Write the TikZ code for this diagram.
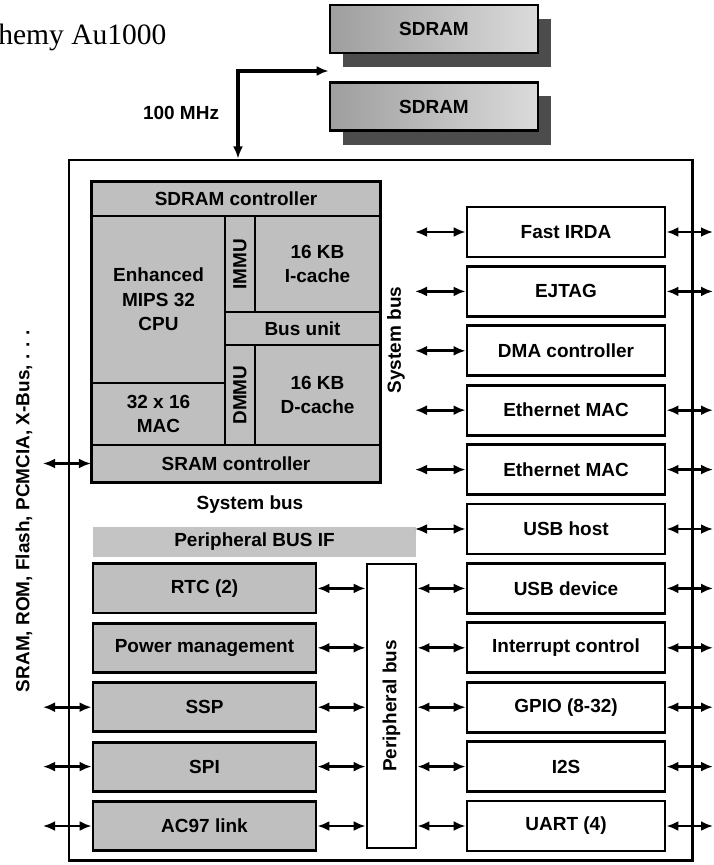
\documentclass[tikz,border=0pt]{standalone}
\usepackage{fontspec}
\setsansfont{Liberation Sans}
\newfontfamily\titlefont{Liberation Serif}
\usepackage{tikz}
\usetikzlibrary{arrows.meta, shadows}

\begin{document}
\begin{tikzpicture}[
    x=0.025cm, y=-0.025cm,
    txt/.style={font=\sffamily\bfseries\fontsize{13.5}{17.5}\selectfont, align=center},
    chip/.style={rectangle, draw, line width=2pt, inner sep=0,
        minimum width=15.575cm, minimum height=17.5cm},
    sdram/.style={rectangle, draw, line width=2pt, txt, inner sep=0,
        left color=black!38, right color=black!14,
        minimum width=5.2cm, minimum height=1.2cm,
        drop shadow={shadow xshift=0.33cm, shadow yshift=-0.35cm,
            fill=black!70, opacity=1}},
    cell/.style={rectangle, draw, line width=1.4pt, fill=black!25, txt, inner sep=0},
    gbox/.style={rectangle, draw, line width=2pt, fill=black!25, txt, inner sep=0,
        minimum width=5.575cm, minimum height=1.225cm},
    wbox/.style={rectangle, draw, line width=2pt, fill=white, txt, inner sep=0,
        minimum width=4.95cm, minimum height=1.25cm},
    busif/.style={rectangle, fill=black!23, txt, inner sep=0,
        minimum width=8.075cm, minimum height=0.75cm},
    lbl/.style={txt},
    arr/.style={{Latex[length=3mm,width=2.5mm]}-{Latex[length=3mm,width=2.5mm]},
        line width=2pt},
    clkarr/.style={{Latex[length=3mm,width=2.5mm]}-{Latex[length=3mm,width=2.5mm]},
        line width=2.6pt}
]
\useasboundingbox (0,0) rectangle (714,865);

% Title (cut at the left edge)
\node[font=\titlefont\fontsize{21}{24}\selectfont, anchor=base west, inner sep=0]
    (ttl) at (-2,45) {hemy Au1000};

% External memory
\node[sdram] (SD1) at (434,29) {SDRAM};
\node[sdram] (SD2) at (434,106.5) {SDRAM};

% Chip outline (its sides are the outer buses)
\node[chip] (chip) at (380.5,510) {};

% Memory clock
\coordinate (clk) at (238,71);
\draw[clkarr] (clk -| SD1.west) -- (clk) -- (clk |- chip.north);
\node[lbl, anchor=east] (mhz) at (224,113) {100 MHz};

% CPU core block
\node[cell, minimum width=7.2cm, minimum height=0.85cm] (sdctl) at (236,199) {SDRAM controller};
\node[cell, minimum width=3.325cm, minimum height=4.175cm] (cpu) at (158.5,299.5) {Enhanced\\MIPS 32\\CPU};
\node[cell, rotate=90, minimum width=2.4cm, minimum height=0.75cm] (immu) at (240,264) {IMMU};
\node[cell, minimum width=3.125cm, minimum height=2.4cm] (icache) at (317.5,264) {16 KB\\I-cache};
\node[cell, minimum width=3.875cm, minimum height=0.825cm] (busunit) at (302.5,328.5) {Bus unit};
\node[cell, minimum width=3.325cm, minimum height=1.55cm] (mac) at (158.5,414) {32 x 16\\MAC};
\node[cell, rotate=90, minimum width=2.5cm, minimum height=0.75cm] (dmmu) at (240,395) {DMMU};
\node[cell, minimum width=3.125cm, minimum height=2.5cm] (dcache) at (317.5,395) {16 KB\\D-cache};
\node[cell, minimum width=7.2cm, minimum height=0.925cm] (sramctl) at (236,463.5) {SRAM controller};
\draw[line width=2pt] (sdctl.north west) rectangle (sramctl.south east);

% Bus labels
\node[lbl, rotate=90] (sysbusv) at (396,340) {System bus};
\node[lbl] (sysbush) at (250,505) {System bus};
\node[lbl, rotate=90] (extmem) at (24,511) {SRAM, ROM, Flash, PCMCIA, X-Bus, . . .};

% Peripheral bus interface
\node[busif] (pbif) at (254.5,542) {Peripheral BUS IF};
\node[wbox, rotate=90, minimum width=7.1cm, minimum height=1.225cm] (pbus) at (391.5,706) {Peripheral bus};

% Peripherals on the peripheral bus (left)
\node[gbox] (rtc) at (204.5,588.4) {RTC (2)};
\node[gbox] (pwr) at (204.5,647.8) {Power management};
\node[gbox] (ssp) at (204.5,707.2) {SSP};
\node[gbox] (spi) at (204.5,766.6) {SPI};
\node[gbox] (ac97) at (204.5,826) {AC97 link};

% Peripherals (right column)
\node[wbox] (irda) at (566,232) {Fast IRDA};
\node[wbox] (ejtag) at (566,291.4) {EJTAG};
\node[wbox] (dma) at (566,350.8) {DMA controller};
\node[wbox] (eth1) at (566,410.2) {Ethernet MAC};
\node[wbox] (eth2) at (566,469.6) {Ethernet MAC};
\node[wbox] (usbh) at (566,529) {USB host};
\node[wbox] (usbd) at (566,588.4) {USB device};
\node[wbox] (intc) at (566,647.8) {Interrupt control};
\node[wbox] (gpio) at (566,707.2) {GPIO (8-32)};
\node[wbox] (iis) at (566,766.6) {I2S};
\node[wbox] (uart) at (566,826) {UART (4)};

% Free ends of the bus arrows
\coordinate (sysbus) at (415,0);
\coordinate (rout) at (713,0);
\coordinate (lout) at (43,0);

% System bus -> right column
\draw[arr] (sysbus |- irda.west) -- (irda.west);
\draw[arr] (sysbus |- ejtag.west) -- (ejtag.west);
\draw[arr] (sysbus |- dma.west) -- (dma.west);
\draw[arr] (sysbus |- eth1.west) -- (eth1.west);
\draw[arr] (sysbus |- eth2.west) -- (eth2.west);
\draw[arr] (sysbus |- usbh.west) -- (usbh.west);

% Peripheral bus -> right column
\draw[arr] (pbus.south |- usbd.west) -- (usbd.west);
\draw[arr] (pbus.south |- intc.west) -- (intc.west);
\draw[arr] (pbus.south |- gpio.west) -- (gpio.west);
\draw[arr] (pbus.south |- iis.west) -- (iis.west);
\draw[arr] (pbus.south |- uart.west) -- (uart.west);

% Left column -> peripheral bus
\draw[arr] (rtc.east) -- (rtc.east -| pbus.north);
\draw[arr] (pwr.east) -- (pwr.east -| pbus.north);
\draw[arr] (ssp.east) -- (ssp.east -| pbus.north);
\draw[arr] (spi.east) -- (spi.east -| pbus.north);
\draw[arr] (ac97.east) -- (ac97.east -| pbus.north);

% Pins on the right
\draw[arr] (irda.east) -- (rout |- irda.east);
\draw[arr] (ejtag.east) -- (rout |- ejtag.east);
\draw[arr] (eth1.east) -- (rout |- eth1.east);
\draw[arr] (eth2.east) -- (rout |- eth2.east);
\draw[arr] (usbh.east) -- (rout |- usbh.east);
\draw[arr] (usbd.east) -- (rout |- usbd.east);
\draw[arr] (intc.east) -- (rout |- intc.east);
\draw[arr] (gpio.east) -- (rout |- gpio.east);
\draw[arr] (iis.east) -- (rout |- iis.east);
\draw[arr] (uart.east) -- (rout |- uart.east);

% Pins on the left
\draw[arr] (lout |- sramctl.west) -- (sramctl.west);
\draw[arr] (lout |- ssp.west) -- (ssp.west);
\draw[arr] (lout |- spi.west) -- (spi.west);
\draw[arr] (lout |- ac97.west) -- (ac97.west);

\end{tikzpicture}
\end{document}
